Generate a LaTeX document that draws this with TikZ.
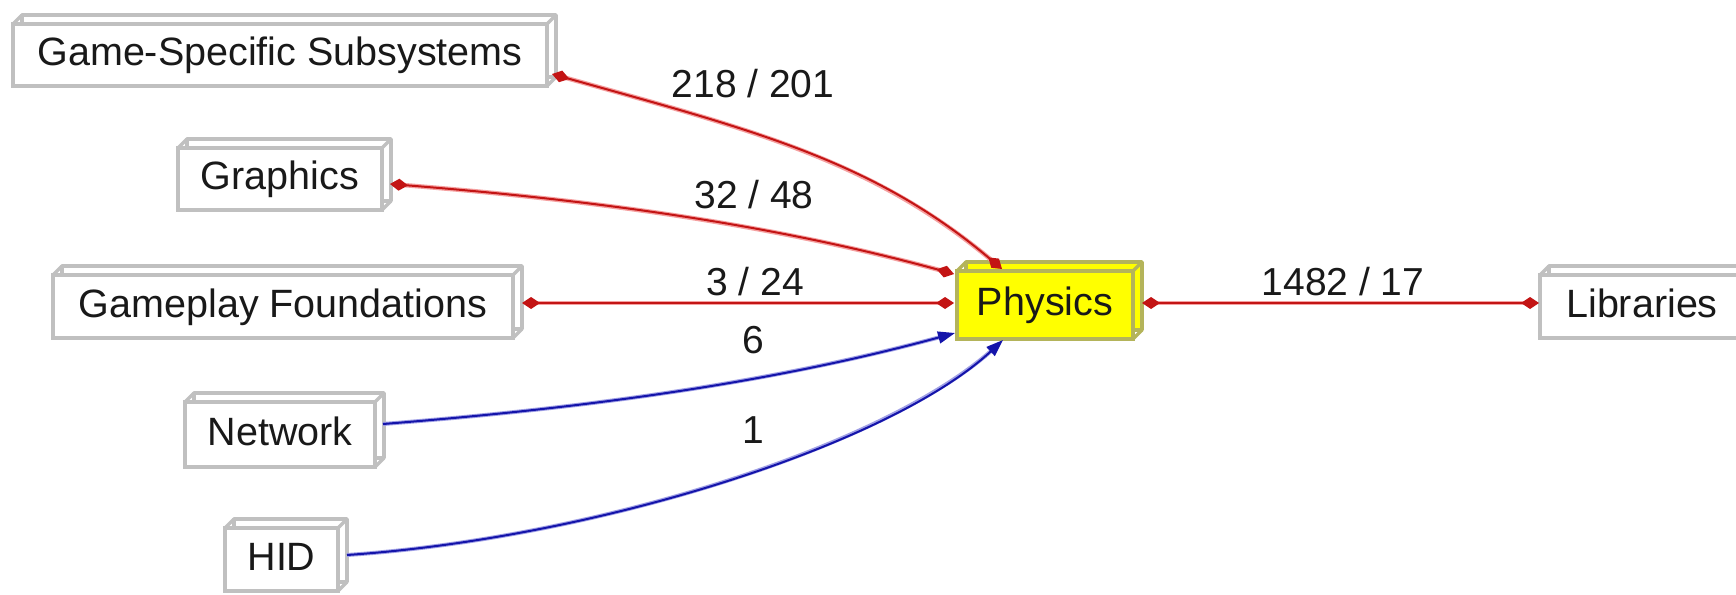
\documentclass[tikz,border=0pt]{standalone}
\usepackage{fontspec}
\setmainfont{Liberation Sans}
\usetikzlibrary{arrows.meta,calc,backgrounds}
\definecolor{boxgray}{RGB}{192,192,192}
\definecolor{physborder}{RGB}{180,180,90}
\definecolor{physyellow}{RGB}{255,255,0}
\definecolor{edgered}{RGB}{195,20,20}
\definecolor{halored}{RGB}{245,160,160}
\definecolor{edgeblue}{RGB}{20,20,170}
\definecolor{haloblue}{RGB}{160,160,230}
\definecolor{txt}{RGB}{25,25,25}
\begin{document}
\begin{tikzpicture}[x=1pt,y=-1pt,
  box/.style={draw=boxgray, line width=3.5pt, fill=white, rectangle, inner sep=0pt, outer sep=0pt,
    minimum height=63pt, text=txt, font=\fontsize{39.5pt}{47pt}\selectfont,
    text height=29pt, text depth=8pt},
  physbox/.style={box, draw=physborder, fill=physyellow, minimum height=68pt},
  backbox/.style={draw=boxgray, line width=3.5pt, fill=white, line join=round},
  physback/.style={draw=physborder, line width=3.5pt, fill=physyellow, line join=round},
  lbl/.style={font=\fontsize{39pt}{47pt}\selectfont, text=txt, anchor=base, inner sep=0pt},
  redE/.style={draw=edgered, line width=2pt,
    preaction={draw=halored, line width=4.5pt, arrows={-}, shorten >=9pt, shorten <=9pt},
    {Turned Square[length=18pt,width=12pt]}-{Turned Square[length=18pt,width=12pt]}},
  blueE/.style={draw=edgeblue, line width=2pt,
    preaction={draw=haloblue, line width=4pt, arrows={-}, shorten >=10pt},
    -{Triangle[length=17pt,width=12pt]}}
]
\useasboundingbox (0,0) rectangle (1736,594);
\clip (0,0) rectangle (1736,594);

% nodes (front faces)
\node[box, minimum width=534pt, minimum height=62pt] (gss) at (280,55) {Game-Specific Subsystems};
\node[box, minimum width=204pt, minimum height=62pt] (gfx) at (280,179) {Graphics};
\node[box, minimum width=460pt] (gpf) at (283,306.5) {Gameplay Foundations};
\node[box, minimum width=190pt, minimum height=65pt] (net) at (280,434.5) {Network};
\node[box, minimum width=113pt] (hid) at (281.5,559.5) {HID};
\node[physbox, minimum width=176pt] (phys) at (1045,305) {Physics};
\node[box, minimum width=204pt] (lib) at (1642,306.5) {Libraries};

% back faces (box3d look)
\begin{scope}[on background layer]
\fill[white] (0,0) rectangle (1736,594);
\foreach \n in {gss,gfx,gpf,net,hid,lib} {
  \draw[backbox] ($(\n.south west)+(9,-9)$) rectangle ($(\n.north east)+(9,-9)$);
  \draw[backbox] (\n.north west) -- ($(\n.north west)+(9,-9)$)
                 (\n.north east) -- ($(\n.north east)+(9,-9)$)
                 (\n.south east) -- ($(\n.south east)+(9,-9)$);
}
\draw[physback] ($(phys.south west)+(9,-9)$) rectangle ($(phys.north east)+(9,-9)$);
\draw[physback] (phys.north west) -- ($(phys.north west)+(9,-9)$)
                (phys.north east) -- ($(phys.north east)+(9,-9)$)
                (phys.south east) -- ($(phys.south east)+(9,-9)$);
\end{scope}

% edges
\draw[redE] ($(gss.south east)+(5,-12)$) .. controls (752,130) and (873,160) .. ($(phys.north west)+(45,-2)$);
\draw[redE] ($(gfx.east)+(8,5)$) .. controls (580,199) and (764,222) .. ($(phys.north west)+(-3,3)$);
\draw[redE] ($(gpf.east)+(9,-3.5)$) -- ($(phys.west)+(-3,-2)$);
\draw[redE] ($(phys.east)+(9,-2)$) -- ($(lib.west)+(-1,-3.5)$);
\draw[blueE] ($(net.east)+(8,-10.5)$) .. controls (573,409) and (765,385) .. ($(phys.south west)+(-2,-6)$);
\draw[blueE] ($(hid.east)+(9,-4.5)$) .. controls (597,538) and (890,445) .. ($(phys.south west)+(46,1)$);

% labels
\node[lbl] (l1) at (753,97) {218 / 201};
\node[lbl] (l2) at (754,208) {32 / 48};
\node[lbl] (l3) at (755,295) {3 / 24};
\node[lbl] (l4) at (753,353) {6};
\node[lbl] (l5) at (753,443) {1};
\node[lbl] (l6) at (1343,295) {1482 / 17};
\end{tikzpicture}
\end{document}
